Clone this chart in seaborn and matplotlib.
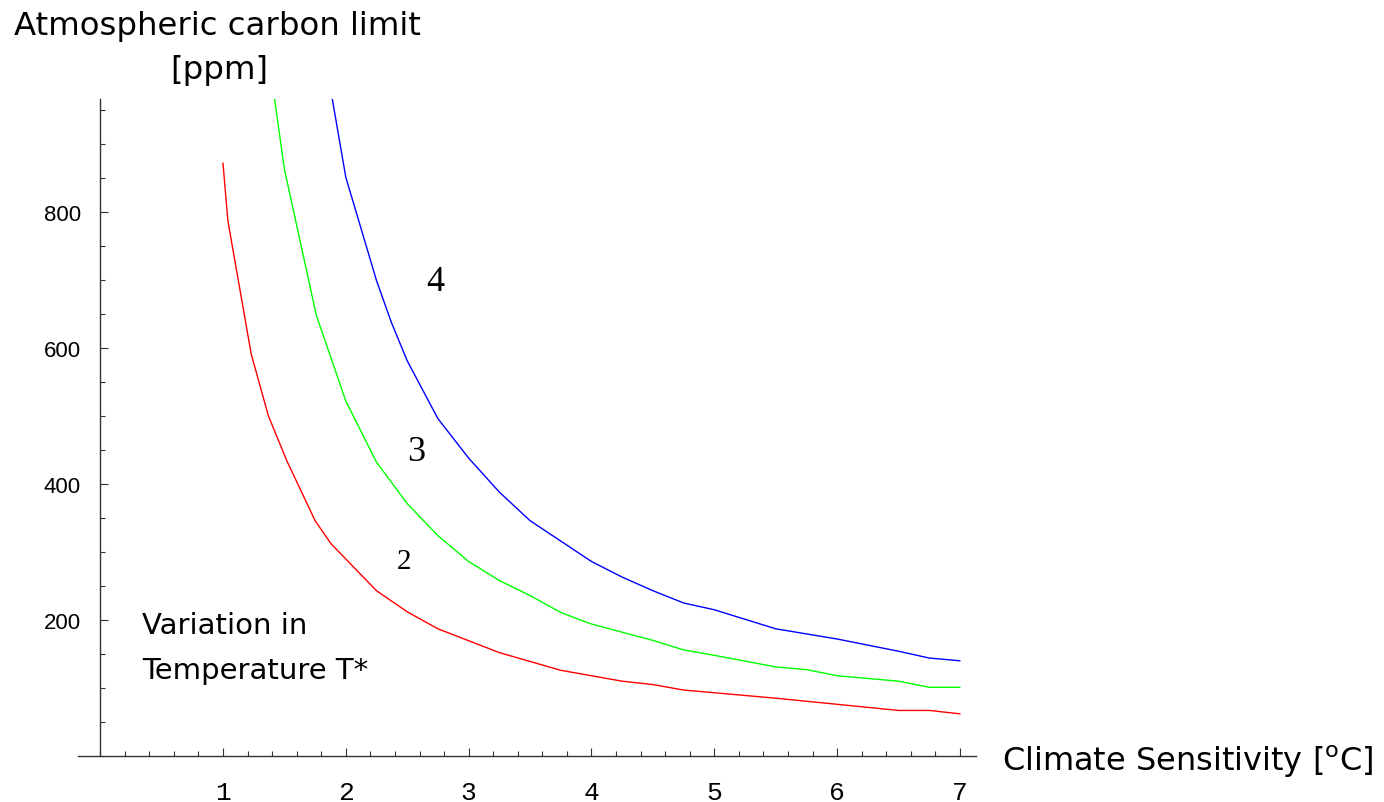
import pandas as pd
import seaborn as sns
import matplotlib.pyplot as plt
from matplotlib.ticker import MultipleLocator

# Values (climate sensitivity vs carbon limit)
red_x = [1.0, 1.04, 1.23, 1.37, 1.52, 1.75, 1.88, 2.25, 2.5, 2.75, 3.25, 3.75,
         4.25, 4.5, 4.75, 5.0, 5.5, 6.0, 6.5, 6.75, 7.0]
red_y = [872, 787, 591, 500, 434, 346, 312, 243, 212, 187, 152, 126,
         110, 105, 97, 93, 85, 76, 67, 67, 62]

green_x = [1.42, 1.5, 1.76, 2.0, 2.25, 2.5, 2.75, 3.0, 3.25, 3.5, 3.75, 4.0,
           4.25, 4.5, 4.75, 5.0, 5.5, 5.75, 6.0, 6.5, 6.75, 7.0]
green_y = [966, 863, 648, 522, 432, 371, 324, 286, 258, 236, 211, 194,
           182, 170, 156, 148, 131, 127, 118, 110, 101, 101]

blue_x = [1.89, 2.0, 2.25, 2.37, 2.5, 2.75, 3.0, 3.25, 3.5, 3.75, 4.0, 4.25,
          4.5, 4.75, 5.0, 5.5, 6.0, 6.5, 6.75, 7.0]
blue_y = [966, 851, 699, 638, 581, 496, 438, 388, 346, 316, 286, 263,
          243, 225, 215, 187, 172, 154, 144, 140]

x_ticks = [1, 2, 3, 4, 5, 6, 7]
y_ticks = [200, 400, 600, 800]

df = pd.concat([
    pd.DataFrame({"sens": red_x, "ppm": red_y, "T": "2"}),
    pd.DataFrame({"sens": green_x, "ppm": green_y, "T": "3"}),
    pd.DataFrame({"sens": blue_x, "ppm": blue_y, "T": "4"}),
])

sns.set_style("white")
plt.rcParams["font.family"] = ["DejaVu Sans"]
plt.rcParams["mathtext.fontset"] = "dejavusans"
plt.rcParams["text.color"] = "black"

fig = plt.figure(figsize=(13.84, 8.03), dpi=100)
ax = fig.add_axes([78 / 1384, 46 / 803, 898 / 1384, 657 / 803])

sns.lineplot(data=df, x="sens", y="ppm", hue="T", units="T", estimator=None,
             sort=False, palette={"2": "#ff0000", "3": "#00ff00", "4": "#0000ff"},
             linewidth=1.0, legend=False, ax=ax)

ax.set_xlim(-0.18, 7.13)
ax.set_ylim(0, 966)

# Mathematica style axes crossing at the origin
for s in ["top", "right"]:
    ax.spines[s].set_visible(False)
ax.spines["left"].set_position(("data", 0))
for s in ["left", "bottom"]:
    ax.spines[s].set_color("#333333")
    ax.spines[s].set_linewidth(1.0)

ax.set_xticks(x_ticks)
ax.set_yticks(y_ticks)
ax.xaxis.set_minor_locator(MultipleLocator(0.2))
ax.yaxis.set_minor_locator(MultipleLocator(50))
ax.tick_params(which="both", direction="in", color="#333333", width=0.8,
               bottom=True, left=True, labelcolor="black")
ax.tick_params(which="major", length=6)
ax.tick_params(which="minor", length=3.8)
ax.tick_params(axis="x", which="major", pad=17, labelsize=19)
ax.tick_params(axis="y", which="major", pad=14, labelsize=16)
for lab in ax.get_xticklabels():
    lab.set_family("Liberation Mono")
for lab in ax.get_yticklabels():
    lab.set_family("Liberation Sans")
ax.set_xlabel("")
ax.set_ylabel("")

# curve labels
ax.text(2.73, 697, "4", family="Liberation Serif", fontsize=26, ha="center", va="center")
ax.text(2.57, 447, "3", family="Liberation Serif", fontsize=26, ha="center", va="center")
ax.text(2.47, 287, "2", family="Liberation Serif", fontsize=21, ha="center", va="center")
ax.text(0.34, 193, "Variation in", fontsize=21, ha="left", va="center")
ax.text(0.34, 126, "Temperature T*", fontsize=21, ha="left", va="center")

fig.text(217 / 1384, 1 - 27 / 803, "Atmospheric carbon limit", fontsize=23.3,
         ha="center", va="center")
fig.text(219 / 1384, 1 - 70 / 803, "[ppm]", fontsize=23.3, ha="center", va="center")
fig.text(1002 / 1384, 1 - 762 / 803, "Climate Sensitivity [$^{\\mathrm{o}}$C]",
         fontsize=23, ha="left", va="center")

fig.savefig("out.png", dpi=100)
